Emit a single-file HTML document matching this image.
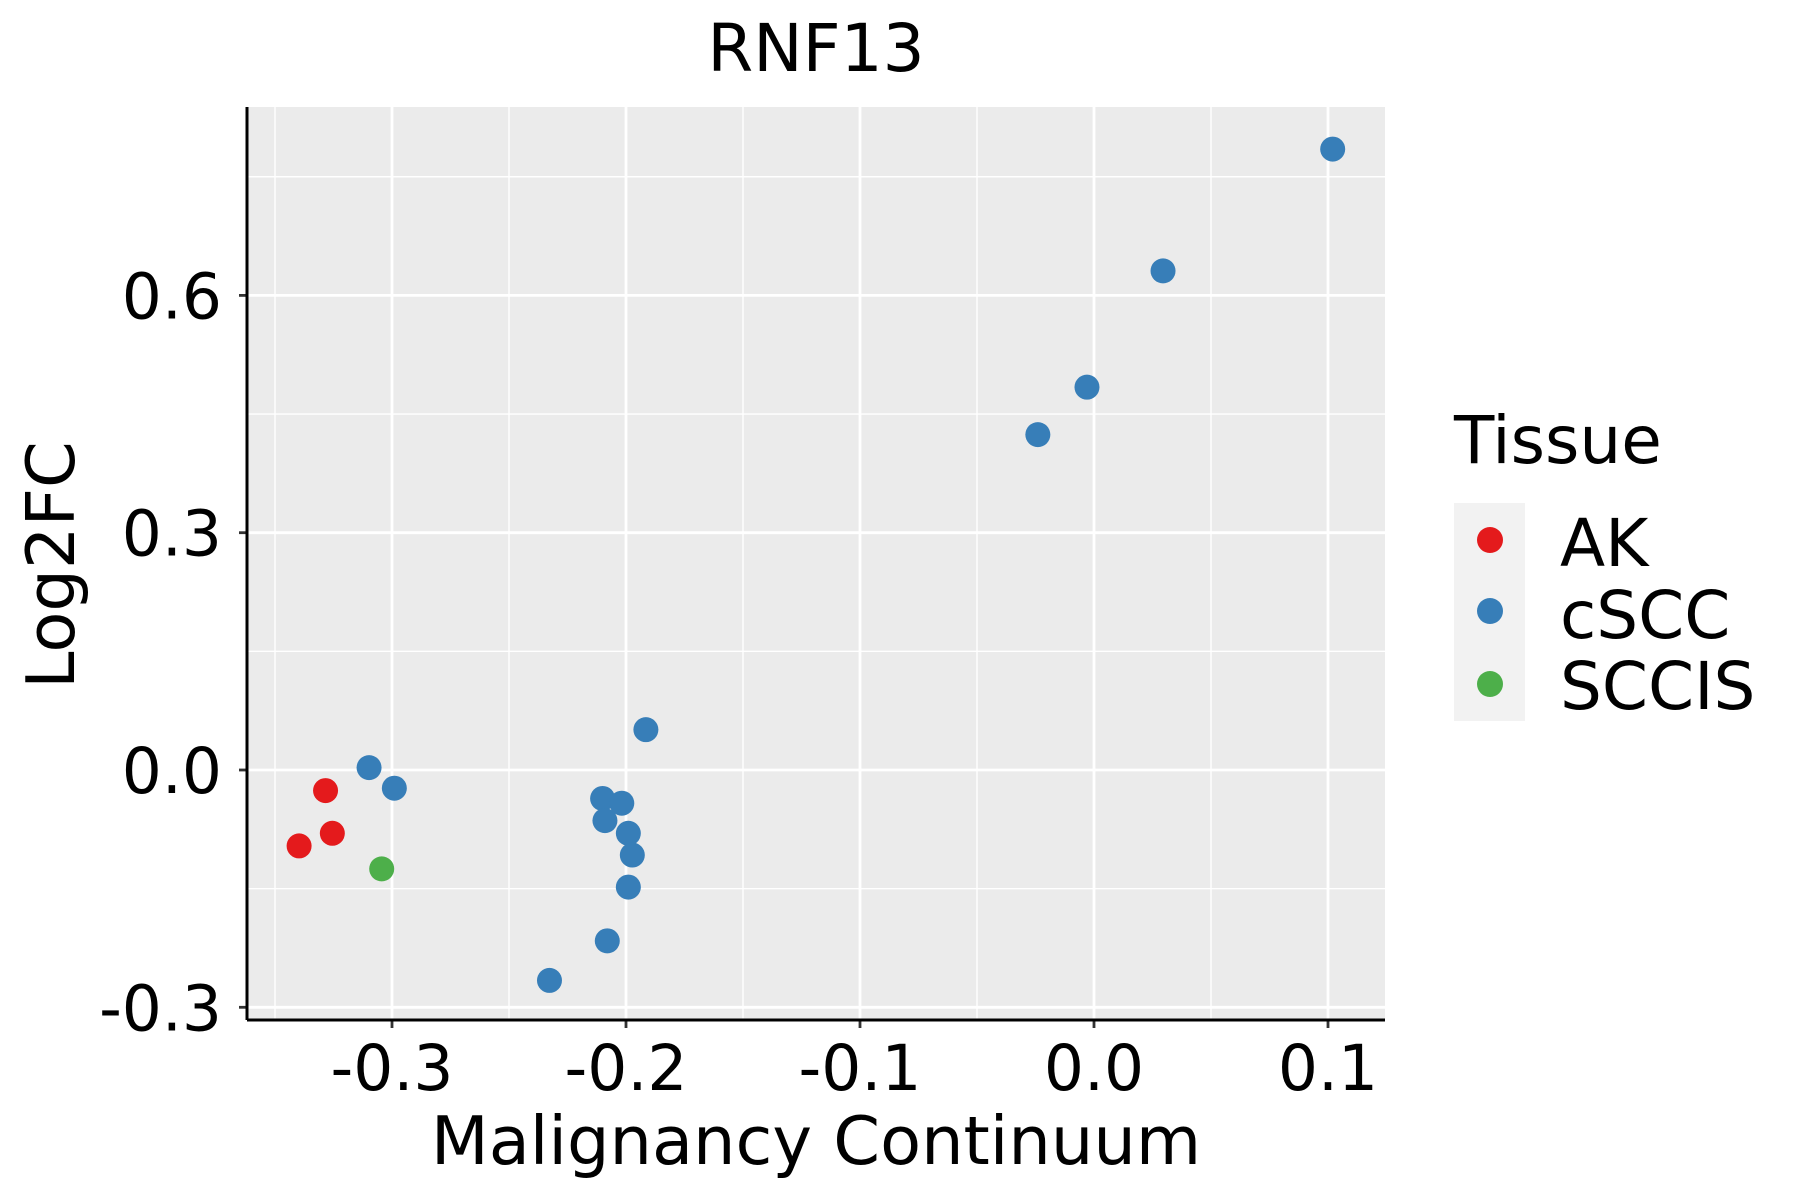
<!DOCTYPE html>
<html><head><meta charset="utf-8"><style>
html,body{margin:0;padding:0;background:#fff}
svg{display:block;font-family:"DejaVu Sans","Liberation Sans",sans-serif}
</style></head><body>
<svg id="chart" width="1800" height="1200" viewBox="0 0 1800 1200">
<rect x="247" y="107" width="1138" height="913" fill="#ebebeb"/>
<g id="grid"></g><g id="axes"></g><g id="points"></g>
<text x="816" y="71" text-anchor="middle" font-size="66" fill="#000">RNF13</text>
<text x="816" y="1164" text-anchor="middle" font-size="67" fill="#000">Malignancy Continuum</text>
<text transform="translate(74,565) rotate(-90)" text-anchor="middle" font-size="67" fill="#000">Log2FC</text>
<g>
<text x="1454" y="463" font-size="66" fill="#000">Tissue</text>
<rect x="1454" y="503" width="71" height="218" fill="#f2f2f2"/>
<circle cx="1490" cy="540" r="13" fill="#E41A1C"/>
<circle cx="1490" cy="611" r="13" fill="#377EB8"/>
<circle cx="1490" cy="684" r="13" fill="#4DAF4A"/>
<text x="1560" y="566" font-size="66" fill="#000">AK</text>
<text x="1560" y="638" font-size="66" fill="#000">cSCC</text>
<text x="1560" y="709" font-size="66" fill="#000">SCCIS</text>
</g>
</svg>
<script>
const xTicks=[-0.3,-0.2,-0.1,0.0,0.1];
const xTickLabels=["-0.3","-0.2","-0.1","0.0","0.1"];
const yTicks=[-0.3,0.0,0.3,0.6];
const yTickLabels=["-0.3","0.0","0.3","0.6"];
const xMinor=[-0.35,-0.25,-0.15,-0.05,0.05];
const yMinor=[-0.15,0.15,0.45,0.75];
const ptX=[0.102,0.0295,-0.003,-0.024,-0.1915,-0.3098,-0.299,-0.210,-0.2018,-0.209,-0.199,-0.1973,-0.199,-0.208,-0.2327,-0.3284,-0.3255,-0.3397,-0.3044];
const ptY=[0.785,0.631,0.484,0.424,0.051,0.003,-0.023,-0.036,-0.042,-0.064,-0.080,-0.1075,-0.148,-0.216,-0.266,-0.026,-0.080,-0.096,-0.125];
const ptGroup=["cSCC","cSCC","cSCC","cSCC","cSCC","cSCC","cSCC","cSCC","cSCC","cSCC","cSCC","cSCC","cSCC","cSCC","cSCC","AK","AK","AK","SCCIS"];
const colors={AK:"#E41A1C",cSCC:"#377EB8",SCCIS:"#4DAF4A"};
const L=247,R=1385,T=107,B=1020;
function sx(v){return 1094+v*2340;}
function sy(v){return 770-v*791;}
const NS="http://www.w3.org/2000/svg";
function mk(tag,attrs,parent){const e=document.createElementNS(NS,tag);for(const k in attrs)e.setAttribute(k,attrs[k]);parent.appendChild(e);return e;}
const grid=document.getElementById('grid'),axes=document.getElementById('axes'),pts=document.getElementById('points');
xMinor.forEach(v=>{const l=mk('line',{x1:sx(v),x2:sx(v),y1:T,y2:B,stroke:'#fff','stroke-width':1.4},grid);

});
yMinor.forEach(v=>{const l=mk('line',{x1:L,x2:R,y1:sy(v),y2:sy(v),stroke:'#fff','stroke-width':1.4},grid);

});
xTicks.forEach((v,i)=>{const l=mk('line',{x1:sx(v),x2:sx(v),y1:T,y2:B,stroke:'#fff','stroke-width':2.8},grid);


const t=mk('line',{x1:sx(v),x2:sx(v),y1:B,y2:B+8,stroke:'#333','stroke-width':2.8},axes);


const tx=mk('text',{x:sx(v),y:1090,'text-anchor':'middle','font-size':63,fill:'#000'},axes);tx.textContent=xTickLabels[i];

});
yTicks.forEach((v,i)=>{const l=mk('line',{x1:L,x2:R,y1:sy(v),y2:sy(v),stroke:'#fff','stroke-width':2.8},grid);


const t=mk('line',{x1:L-8,x2:L,y1:sy(v),y2:sy(v),stroke:'#333','stroke-width':2.8},axes);


const tx=mk('text',{x:222,y:sy(v)+23,'text-anchor':'end','font-size':63,fill:'#000'},axes);tx.textContent=yTickLabels[i];

});
const ax=mk('line',{x1:L,x2:R,y1:B,y2:B,stroke:'#000','stroke-width':3},axes);


const ay=mk('line',{x1:L,x2:L,y1:T,y2:B,stroke:'#000','stroke-width':3},axes);


ptX.forEach((v,i)=>{const c=mk('circle',{cx:sx(v),cy:sy(ptY[i]),r:12.5,fill:colors[ptGroup[i]]},pts);

});
</script>
</body></html>
